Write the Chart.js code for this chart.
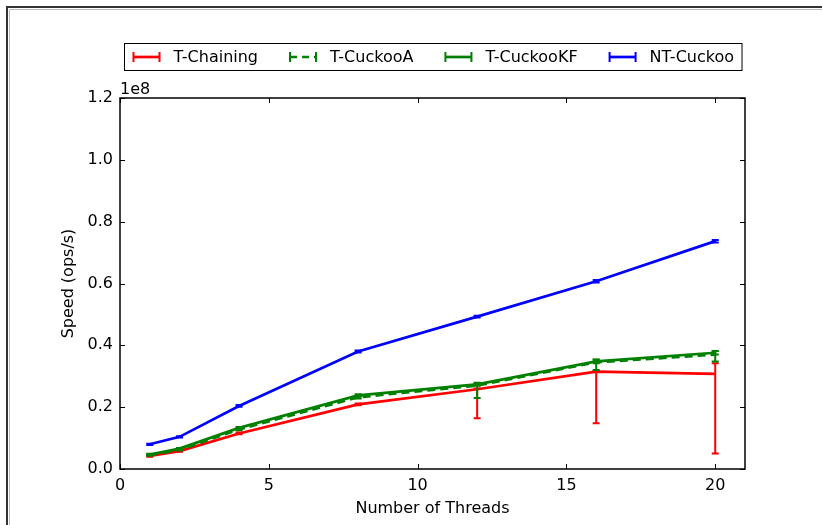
<!DOCTYPE html>
<html>
<head>
<meta charset="utf-8">
<script src="https://cdn.jsdelivr.net/npm/chart.js@4.4.0/dist/chart.umd.min.js"></script>
<style>
html, body { margin: 0; padding: 0; background: #fff; }
canvas { display: block; }
</style>
</head>
<body>
<canvas id="chart" width="822" height="525"></canvas>
<script>
// x values (threads) and axis ticks
var threads = [1, 2, 4, 8, 12, 16, 20];
var xTicks = [0, 5, 10, 15, 20];
var yTicks = [0, 0.2e8, 0.4e8, 0.6e8, 0.8e8, 1.0e8, 1.2e8];

// speeds in ops/s, with error below / above each point
var chaining     = [4.2e6, 5.8e6, 1.15e7, 2.09e7, 2.58e7, 3.15e7, 3.08e7];
var chainingLow  = [2e5, 2e5, 3e5, 3e5, 9.4e6, 1.67e7, 2.58e7];
var chainingHigh = [2e5, 2e5, 3e5, 3e5, 2e5, 2e5, 3.4e6];

var cuckooA      = [4.5e6, 6.2e6, 1.28e7, 2.32e7, 2.70e7, 3.45e7, 3.70e7];
var cuckooALow   = [2e5, 2e5, 3e5, 4e5, 4.0e6, 2.5e6, 2.2e6];
var cuckooAHigh  = [2e5, 2e5, 3e5, 4e5, 8e5, 8e5, 1.2e6];

var cuckooKF     = [4.7e6, 6.6e6, 1.33e7, 2.38e7, 2.74e7, 3.48e7, 3.76e7];
var cuckooKFLow  = [2e5, 2e5, 3e5, 4e5, 5e5, 6e5, 6e5];
var cuckooKFHigh = [2e5, 2e5, 3e5, 4e5, 5e5, 6e5, 6e5];

var ntCuckoo     = [8.0e6, 1.04e7, 2.04e7, 3.80e7, 4.93e7, 6.07e7, 7.37e7];
var ntCuckooLow  = [2e5, 2e5, 3e5, 3e5, 3e5, 4e5, 4e5];
var ntCuckooHigh = [2e5, 2e5, 3e5, 3e5, 3e5, 4e5, 4e5];

var names  = ['T-Chaining', 'T-CuckooA', 'T-CuckooKF', 'NT-Cuckoo'];
var colors = ['#ff0000', '#008000', '#008000', '#0000ff'];
var dashes = [[], [8, 5], [], []];

var FONT = '"DejaVu Sans", "Liberation Sans", sans-serif';

function points(ys) {
    return threads.map(function (t, i) { return { x: t, y: ys[i] }; });
}

function makeSet(i, ys, lo, hi) {
    return {
        label: names[i],
        data: points(ys),
        errLow: lo,
        errHigh: hi,
        borderColor: colors[i],
        backgroundColor: colors[i],
        borderWidth: 2.7,
        borderDash: dashes[i],
        pointRadius: 0,
        tension: 0,
        fill: false,
        order: 4 - i
    };
}

// vertical error bars with caps
var errorBars = {
    id: 'errorBars',
    afterDatasetsDraw: function (c) {
        var ctx = c.ctx, xs = c.scales.x, ys = c.scales.y;
        c.data.datasets.forEach(function (ds) {
            ctx.save();
            ctx.strokeStyle = ds.borderColor;
            ctx.lineWidth = 2;
            ds.data.forEach(function (p, i) {
                var px = xs.getPixelForValue(p.x);
                var top = ys.getPixelForValue(p.y + ds.errHigh[i]);
                var bot = ys.getPixelForValue(p.y - ds.errLow[i]);
                ctx.beginPath();
                ctx.moveTo(px, top); ctx.lineTo(px, bot);
                ctx.moveTo(px - 3.5, top); ctx.lineTo(px + 3.5, top);
                ctx.moveTo(px - 3.5, bot); ctx.lineTo(px + 3.5, bot);
                ctx.stroke();
            });
            ctx.restore();
        });
    }
};

// matplotlib-like frame: box, inward ticks, offset text, legend, outer border
var decorations = {
    id: 'decorations',
    beforeDraw: function (c) {
        var ctx = c.ctx;
        ctx.save();
        ctx.fillStyle = '#fff';
        ctx.fillRect(0, 0, c.width, c.height);
        ctx.strokeStyle = '#333';
        ctx.lineWidth = 2;
        ctx.beginPath();
        ctx.moveTo(7, c.height); ctx.lineTo(7, 7); ctx.lineTo(c.width, 7);
        ctx.stroke();
        ctx.strokeStyle = '#bbb';
        ctx.lineWidth = 1;
        ctx.beginPath();
        ctx.moveTo(9.5, c.height); ctx.lineTo(9.5, 9.5); ctx.lineTo(c.width, 9.5);
        ctx.stroke();
        ctx.restore();
    },
    afterDraw: function (c) {
        var ctx = c.ctx, a = c.chartArea, xs = c.scales.x, ys = c.scales.y;
        ctx.save();
        ctx.strokeStyle = '#000';
        ctx.lineWidth = 1;
        xTicks.forEach(function (v) {
            var px = Math.round(xs.getPixelForValue(v)) + 0.5;
            ctx.beginPath();
            ctx.moveTo(px, a.bottom); ctx.lineTo(px, a.bottom - 5);
            ctx.moveTo(px, a.top); ctx.lineTo(px, a.top + 5);
            ctx.stroke();
        });
        yTicks.forEach(function (v) {
            var py = Math.round(ys.getPixelForValue(v)) + 0.5;
            ctx.beginPath();
            ctx.moveTo(a.left, py); ctx.lineTo(a.left + 5, py);
            ctx.moveTo(a.right, py); ctx.lineTo(a.right - 5, py);
            ctx.stroke();
        });
        ctx.lineWidth = 1.5;
        ctx.strokeRect(a.left, a.top, a.right - a.left, a.bottom - a.top);

        // offset label
        ctx.fillStyle = '#000';
        ctx.font = '16px ' + FONT;
        ctx.textAlign = 'left';
        ctx.textBaseline = 'alphabetic';
        ctx.fillText('1e8', a.left, a.top - 4);

        // legend
        ctx.font = '16px ' + FONT;
        var sym = 28, gap = 13, colGap = 31, pad = 8;
        var widths = names.map(function (n) { return ctx.measureText(n).width; });
        var total = pad * 2 + colGap * (names.length - 1);
        widths.forEach(function (w) { total += sym + gap + w; });
        var bx = Math.round((a.left + a.right) / 2 - total / 2) + 0.5;
        var by = a.top - 55 + 0.5, bh = 27;
        ctx.lineWidth = 1;
        ctx.strokeStyle = '#000';
        ctx.strokeRect(bx, by, total, bh);
        var cy = by + bh / 2;
        var x = bx + pad;
        names.forEach(function (n, i) {
            ctx.strokeStyle = colors[i];
            ctx.lineWidth = 2.7;
            ctx.setLineDash(dashes[i].length ? [7, 5] : []);
            ctx.beginPath();
            ctx.moveTo(x + 1, cy); ctx.lineTo(x + sym - 1, cy);
            ctx.stroke();
            ctx.setLineDash([]);
            ctx.lineWidth = 2;
            ctx.beginPath();
            ctx.moveTo(x + 1, cy - 5); ctx.lineTo(x + 1, cy + 5);
            ctx.moveTo(x + sym - 1, cy - 5); ctx.lineTo(x + sym - 1, cy + 5);
            ctx.stroke();
            ctx.fillStyle = '#000';
            ctx.textBaseline = 'middle';
            ctx.fillText(n, x + sym + gap, cy + 1);
            x += sym + gap + widths[i] + colGap;
        });
        ctx.restore();
    }
};

var chart = new Chart(document.getElementById('chart'), {
    type: 'line',
    data: {
        datasets: [
            makeSet(0, chaining, chainingLow, chainingHigh),
            makeSet(1, cuckooA, cuckooALow, cuckooAHigh),
            makeSet(2, cuckooKF, cuckooKFLow, cuckooKFHigh),
            makeSet(3, ntCuckoo, ntCuckooLow, ntCuckooHigh)
        ]
    },
    options: {
        responsive: false,
        animation: false,
        devicePixelRatio: 1,
        layout: { padding: { top: 98, right: 77, bottom: 0, left: 0 } },
        plugins: {
            legend: { display: false },
            tooltip: { enabled: false }
        },
        scales: {
            x: {
                type: 'linear',
                min: 0,
                max: 21,
                grid: { display: false, drawTicks: false },
                border: { display: false },
                afterBuildTicks: function (s) {
                    s.ticks = xTicks.map(function (v) { return { value: v }; });
                },
                afterFit: function (s) { s.height = 56; },
                ticks: {
                    color: '#000',
                    padding: 7,
                    font: { family: FONT, size: 16 },
                    callback: function (v) { return String(v); }
                },
                title: {
                    display: true,
                    text: 'Number of Threads',
                    color: '#000',
                    font: { family: FONT, size: 16 },
                    padding: { top: 0, bottom: 7 }
                }
            },
            y: {
                min: 0,
                max: 1.2e8,
                grid: { display: false, drawTicks: false },
                border: { display: false },
                afterBuildTicks: function (s) {
                    s.ticks = yTicks.map(function (v) { return { value: v }; });
                },
                afterFit: function (s) { s.width = 120; },
                ticks: {
                    color: '#000',
                    padding: 7,
                    font: { family: FONT, size: 16 },
                    callback: function (v) { return (v / 1e8).toFixed(1); }
                },
                title: {
                    display: true,
                    text: 'Speed (ops/s)',
                    color: '#000',
                    font: { family: FONT, size: 16 },
                    padding: { top: 59, bottom: 0 }
                }
            }
        }
    },
    plugins: [errorBars, decorations]
});
</script>
</body>
</html>
